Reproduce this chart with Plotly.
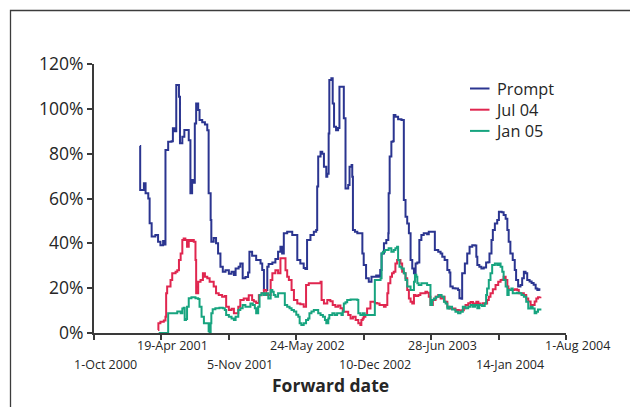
import numpy as np
import pandas as pd
import plotly.graph_objects as go

# Forward dates as Excel serial day numbers; implied volatility in percent
prompt_serial = [
    36936, 36937, 36948, 36953, 36961, 36965, 36971, 36982, 36990, 36997,
    37005, 37010, 37012, 37020, 37030, 37034, 37040, 37044, 37050, 37052,
    37055, 37062, 37068, 37077, 37081, 37086, 37091, 37096, 37099, 37103,
    37109, 37113, 37121, 37129, 37136, 37140, 37146, 37148, 37155, 37162,
    37168, 37175, 37182, 37190, 37200, 37208, 37215, 37220, 37229, 37234,
    37241, 37249, 37257, 37261, 37269, 37277, 37281, 37289, 37294, 37299,
    37304, 37309, 37314, 37318, 37329, 37338, 37346, 37353, 37358, 37363,
    37373, 37383, 37388, 37398, 37403, 37412, 37422, 37427, 37432, 37442,
    37452, 37459, 37462, 37465, 37472, 37477, 37482, 37489, 37492, 37496,
    37498, 37504, 37508, 37512, 37518, 37524, 37528, 37536, 37541, 37546,
    37554, 37558, 37564, 37566, 37568, 37574, 37581, 37590, 37596, 37600,
    37607, 37615, 37623, 37630, 37637, 37643, 37649, 37653, 37660, 37667,
    37673, 37674, 37677, 37682, 37686, 37689, 37694, 37702, 37712, 37716,
    37719, 37724, 37729, 37734, 37739, 37744, 37749, 37754, 37759, 37765,
    37771, 37778, 37788, 37793, 37805, 37811, 37821, 37828, 37833, 37840,
    37848, 37854, 37857, 37864, 37872, 37880, 37884, 37890, 37892, 37900,
    37907, 37914, 37922, 37930, 37934, 37937, 37943, 37949, 37956, 37963,
    37969, 37973, 37979, 37983, 37989, 37996, 38001, 38009, 38015, 38021,
    38026, 38030, 38035, 38042, 38048, 38052, 38058, 38065, 38070, 38075,
    38080, 38085, 38092, 38098, 38104, 38110, 38115, 38119, 38121,
]
prompt_vol = [
    83.4, 63.8, 66.8, 62.3, 60.0, 49.0, 43.0, 43.7, 40.7, 39.2,
    41.0, 39.5, 81.6, 85.3, 85.5, 91.3, 90.0, 110.6, 110.6, 105.4,
    84.6, 87.5, 90.6, 90.6, 86.0, 62.3, 68.2, 67.0, 93.5, 102.4,
    99.5, 95.0, 94.0, 93.0, 90.5, 62.3, 50.4, 40.7, 42.4, 40.0,
    35.5, 29.6, 27.3, 28.0, 26.4, 27.3, 25.9, 28.8, 29.5, 31.0,
    24.4, 25.0, 27.0, 36.3, 34.5, 34.5, 32.6, 32.6, 31.0, 28.1,
    19.2, 19.2, 29.6, 30.8, 31.5, 33.0, 36.3, 38.5, 35.5, 44.5,
    45.2, 45.2, 43.7, 43.7, 32.6, 31.0, 29.0, 28.5, 41.5, 43.7,
    45.2, 46.0, 65.3, 78.7, 80.9, 80.0, 74.2, 69.7, 71.0, 89.0,
    112.9, 113.6, 102.4, 92.0, 90.5, 91.5, 109.9, 109.9, 95.8, 64.5,
    66.0, 74.2, 75.0, 69.7, 46.0, 45.2, 44.5, 44.5, 35.5, 30.3,
    24.4, 22.9, 25.1, 25.1, 25.6, 25.1, 28.1, 35.5, 40.0, 41.5,
    44.5, 62.3, 78.7, 85.3, 85.5, 97.3, 96.5, 95.3, 95.0, 95.0,
    59.3, 51.9, 48.9, 44.5, 32.6, 28.8, 26.6, 31.0, 31.5, 41.5,
    43.7, 44.5, 44.0, 45.2, 45.2, 37.0, 36.3, 35.5, 34.0, 32.6,
    28.1, 27.0, 20.7, 20.0, 19.9, 19.2, 15.5, 15.3, 26.6, 31.0,
    35.5, 38.5, 39.2, 39.0, 34.0, 30.3, 29.6, 28.8, 29.2, 31.4,
    31.6, 35.5, 41.5, 46.0, 48.9, 50.4, 54.1, 53.9, 52.6, 51.0,
    46.0, 40.7, 35.5, 32.6, 28.1, 23.6, 20.7, 21.4, 24.4, 27.3,
    26.6, 23.6, 23.0, 22.3, 21.5, 19.9, 19.2, 19.5, 18.9,
]

jul04_serial = [
    36990, 36991, 36997, 37007, 37012, 37014, 37017, 37022, 37027, 37032,
    37042, 37047, 37052, 37057, 37062, 37066, 37071, 37076, 37081, 37086,
    37091, 37096, 37101, 37103, 37109, 37116, 37123, 37129, 37136, 37143,
    37151, 37155, 37162, 37170, 37180, 37188, 37192, 37200, 37208, 37215,
    37220, 37228, 37234, 37244, 37254, 37259, 37269, 37274, 37281, 37289,
    37297, 37304, 37311, 37318, 37324, 37329, 37338, 37346, 37353, 37363,
    37368, 37373, 37378, 37386, 37393, 37403, 37412, 37422, 37427, 37429,
    37437, 37452, 37467, 37472, 37475, 37482, 37492, 37501, 37508, 37516,
    37524, 37531, 37538, 37546, 37554, 37561, 37568, 37576, 37584, 37590,
    37593, 37597, 37600, 37605, 37610, 37615, 37620, 37627, 37633, 37640,
    37647, 37655, 37660, 37665, 37670, 37673, 37679, 37684, 37689, 37694,
    37699, 37706, 37709, 37714, 37719, 37724, 37729, 37734, 37739, 37744,
    37749, 37754, 37762, 37768, 37775, 37783, 37788, 37793, 37798, 37805,
    37813, 37821, 37828, 37835, 37840, 37848, 37854, 37862, 37872, 37882,
    37890, 37897, 37902, 37910, 37917, 37924, 37930, 37934, 37940, 37946,
    37953, 37961, 37966, 37971, 37976, 37983, 37991, 37999, 38006, 38011,
    38015, 38021, 38026, 38029, 38032, 38040, 38048, 38055, 38060, 38068,
    38075, 38082, 38088, 38095, 38101, 38107, 38112, 38117, 38124,
]
jul04_vol = [
    1.3, 4.3, 5.0, 5.6, 7.3, 17.7, 20.7, 20.7, 23.6, 26.6,
    27.3, 28.0, 32.6, 35.5, 41.5, 42.2, 41.5, 38.5, 41.5, 41.0,
    41.5, 40.7, 32.6, 17.7, 22.9, 23.6, 26.6, 25.1, 24.4, 22.9,
    22.9, 20.7, 17.7, 17.0, 16.2, 16.5, 11.7, 10.3, 10.8, 8.8,
    8.8, 11.7, 14.7, 15.4, 14.7, 16.8, 14.7, 14.0, 13.4, 16.8,
    17.7, 19.2, 17.0, 17.0, 23.6, 26.6, 28.0, 26.6, 33.3, 33.3,
    28.0, 25.1, 23.6, 19.2, 14.7, 13.2, 12.8, 11.7, 11.7, 21.4,
    22.2, 22.2, 22.2, 22.9, 14.7, 13.2, 14.7, 14.2, 12.5, 11.7,
    12.3, 11.0, 9.5, 9.5, 8.0, 6.5, 7.3, 5.8, 4.3, 3.6,
    5.8, 6.5, 7.3, 8.0, 10.9, 10.9, 13.9, 13.9, 13.4, 13.2,
    12.5, 12.5, 11.7, 12.5, 17.7, 22.2, 25.1, 26.6, 27.3, 31.0,
    32.6, 32.6, 31.0, 27.3, 26.6, 24.4, 19.2, 15.4, 13.9, 13.2,
    17.0, 16.5, 17.0, 17.7, 17.7, 18.4, 18.0, 16.2, 12.5, 14.7,
    16.2, 17.0, 15.4, 16.2, 13.9, 11.7, 10.9, 10.9, 10.3, 10.0,
    10.1, 11.0, 12.5, 13.3, 13.8, 13.2, 12.5, 13.9, 13.2, 12.5,
    13.3, 13.2, 14.7, 16.2, 17.7, 19.5, 21.4, 22.9, 23.6, 23.8,
    25.1, 23.6, 20.7, 19.5, 19.2, 19.2, 19.5, 19.2, 17.7, 17.7,
    17.0, 15.4, 14.0, 12.5, 12.5, 14.0, 15.4, 15.9, 16.2,
]

jan05_serial = [
    36992, 37017, 37020, 37027, 37037, 37047, 37057, 37062, 37066, 37069,
    37073, 37076, 37081, 37089, 37101, 37109, 37113, 37119, 37126, 37136,
    37140, 37143, 37146, 37148, 37152, 37160, 37172, 37182, 37188, 37192,
    37200, 37208, 37215, 37220, 37228, 37234, 37241, 37249, 37257, 37264,
    37271, 37277, 37281, 37287, 37291, 37297, 37304, 37309, 37317, 37324,
    37329, 37333, 37338, 37346, 37353, 37360, 37366, 37373, 37380, 37386,
    37393, 37400, 37406, 37410, 37415, 37422, 37429, 37435, 37439, 37445,
    37452, 37459, 37465, 37472, 37479, 37485, 37489, 37495, 37498, 37507,
    37514, 37521, 37528, 37534, 37538, 37541, 37546, 37551, 37561, 37571,
    37581, 37584, 37590, 37597, 37603, 37610, 37617, 37625, 37630, 37633,
    37640, 37647, 37650, 37653, 37657, 37663, 37670, 37674, 37682, 37689,
    37694, 37699, 37702, 37706, 37712, 37719, 37724, 37729, 37734, 37739,
    37744, 37749, 37752, 37756, 37759, 37763, 37771, 37778, 37788, 37795,
    37798, 37803, 37808, 37815, 37823, 37831, 37838, 37843, 37848, 37854,
    37862, 37872, 37880, 37887, 37894, 37902, 37910, 37917, 37924, 37930,
    37937, 37943, 37951, 37959, 37963, 37966, 37971, 37976, 37981, 37989,
    37996, 38001, 38006, 38011, 38015, 38021, 38026, 38030, 38038, 38042,
    38048, 38055, 38062, 38068, 38075, 38082, 38088, 38095, 38101, 38107,
    38112, 38117, 38124,
]
jan05_vol = [
    0.0, 0.0, 8.8, 8.8, 8.8, 9.6, 8.8, 10.9, 11.3, 5.8,
    6.2, 11.7, 15.5, 15.9, 15.5, 15.2, 11.7, 7.3, 4.3, 4.3,
    0.8, 0.0, 4.3, 8.8, 10.6, 11.0, 11.3, 11.0, 10.3, 8.0,
    7.3, 6.5, 5.8, 7.3, 10.3, 11.0, 12.5, 11.7, 11.7, 13.2,
    12.5, 11.0, 8.8, 11.7, 17.0, 17.7, 17.0, 17.7, 15.4, 19.2,
    18.4, 17.0, 16.2, 17.7, 17.7, 17.7, 12.5, 11.7, 11.0, 10.3,
    9.6, 8.1, 7.3, 4.3, 3.6, 4.3, 5.8, 6.5, 8.8, 9.6,
    10.3, 10.3, 8.8, 8.0, 7.3, 5.8, 4.3, 6.5, 8.0, 8.8,
    8.0, 8.8, 8.8, 8.0, 9.6, 13.2, 13.7, 14.7, 14.9, 14.9,
    14.7, 8.8, 8.0, 8.8, 8.0, 8.0, 8.0, 8.0, 8.0, 23.6,
    23.6, 23.6, 24.4, 35.5, 36.3, 37.0, 37.0, 37.8, 36.3, 37.0,
    37.8, 38.5, 32.6, 29.6, 28.8, 26.6, 23.6, 20.7, 20.7, 19.2,
    19.2, 22.9, 26.0, 25.1, 22.2, 21.4, 22.2, 22.2, 21.4, 21.4,
    12.5, 14.7, 15.4, 16.2, 17.0, 16.2, 13.9, 13.2, 10.9, 11.7,
    10.5, 9.5, 8.8, 9.5, 11.7, 11.0, 11.7, 12.5, 11.7, 12.5,
    11.0, 12.5, 12.0, 13.2, 17.0, 19.9, 23.6, 26.6, 30.3, 31.0,
    30.3, 31.0, 29.6, 27.3, 23.6, 20.7, 17.0, 19.2, 19.9, 17.7,
    17.7, 18.0, 17.7, 17.0, 16.2, 13.9, 10.9, 11.7, 10.9, 8.8,
    9.5, 10.5, 10.9,
]

series_names = ["Prompt", "Jul 04", "Jan 05"]
series_colors = ["#2b3590", "#e0264f", "#17a47f"]

tick_dates = ["2000-10-01", "2001-04-19", "2001-11-05", "2002-05-24",
              "2002-12-10", "2003-06-28", "2004-01-14", "2004-08-01"]
tick_labels = ["1-Oct 2000", "19-Apr 2001", "5-Nov 2001", "24-May 2002",
               "10-Dec 2002", "28-Jun 2003", "14-Jan 2004", "1-Aug 2004"]
y_ticks = [0, 20, 40, 60, 80, 100, 120]

FONT = "Open Sans, Noto Sans, sans-serif"
TEXT = "#262626"
AXIS = "#3a3a3a"


def to_dates(serials):
    return pd.to_datetime(np.asarray(serials), unit="D", origin="1899-12-30")


fig = go.Figure()
for name, color, s, v in zip(
    series_names, series_colors,
    [prompt_serial, jul04_serial, jan05_serial],
    [prompt_vol, jul04_vol, jan05_vol],
):
    # daily quotes held flat between changes, so draw as steps
    fig.add_trace(go.Scatter(
        x=to_dates(s), y=np.asarray(v) / 100.0, mode="lines", name=name,
        line=dict(color=color, width=2, shape="hv"), showlegend=False,
    ))

# plot area in pixels: x 94..566, y 64..333
L, R, T, B = 94, 64, 64, 74
W, H = 630, 407
pw, ph = W - L - R, H - T - B


def px_x(px):
    return (px - L) / pw


def px_y(py):
    return (H - B - py) / ph


annotations = []
for i, (d, lab) in enumerate(zip(tick_dates, tick_labels)):
    row_y = 364.5 if i % 2 == 0 else 345.5
    annotations.append(dict(
        x=d, xref="x", y=px_y(row_y), yref="paper", text=lab,
        showarrow=False, xshift=11, xanchor="center", yanchor="middle",
        font=dict(family=FONT, size=12.5, color=TEXT),
    ))
annotations.append(dict(
    x=px_x(330), xref="paper", y=px_y(385), yref="paper",
    text="<b>Forward date</b>", showarrow=False,
    xanchor="center", yanchor="middle",
    font=dict(family=FONT, size=17.5, color=TEXT),
))

shapes = [dict(
    type="rect", xref="paper", yref="paper",
    x0=px_x(10.5), x1=px_x(700), y0=px_y(500), y1=px_y(10.5),
    line=dict(color="#3c3c3c", width=1.3), fillcolor="rgba(0,0,0,0)",
    layer="below",
)]

# hand-placed key: coloured swatches plus one three-line label block
legend_rows = [88.5, 109.7, 130.9]
for color, ry in zip(series_colors, legend_rows):
    shapes.append(dict(
        type="line", xref="paper", yref="paper",
        x0=px_x(470), x1=px_x(489.5), y0=px_y(ry), y1=px_y(ry),
        line=dict(color=color, width=2),
    ))
annotations.append(dict(
    x=px_x(493), xref="paper", y=px_y(legend_rows[1]), yref="paper",
    text="<br>".join(series_names), align="left",
    showarrow=False, xanchor="left", yanchor="middle",
    font=dict(family=FONT, size=16.3, color=TEXT),
))

fig.update_layout(
    width=W, height=H,
    margin=dict(l=L, r=R, t=T, b=B, pad=0),
    paper_bgcolor="white", plot_bgcolor="white",
    font=dict(family=FONT, color=TEXT),
    annotations=annotations, shapes=shapes,
    showlegend=False,
)
fig.update_xaxes(
    type="date", range=[tick_dates[0], tick_dates[-1]],
    tickvals=tick_dates, showticklabels=False,
    ticks="outside", ticklen=5, tickwidth=1.5, tickcolor=AXIS,
    showline=True, linecolor=AXIS, linewidth=2,
    showgrid=False, zeroline=False,
)
fig.update_yaxes(
    range=[0, 1.2], tickvals=[t / 100 for t in y_ticks],
    ticktext=[f"{t}%" for t in y_ticks],
    ticks="outside", ticklen=5, tickwidth=1.5, tickcolor=AXIS,
    showline=True, linecolor=AXIS, linewidth=2,
    showgrid=False, zeroline=False,
    tickfont=dict(family=FONT, size=17.5, color=TEXT),
)

fig.write_html("out.html")
